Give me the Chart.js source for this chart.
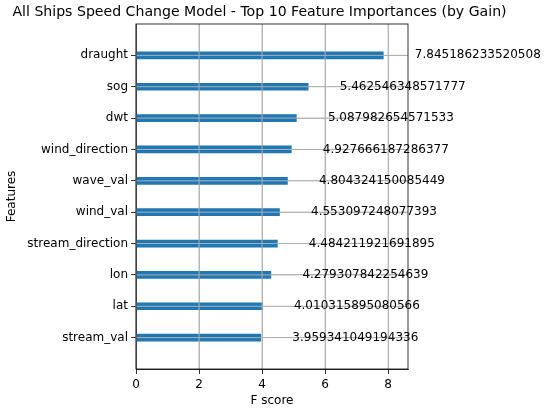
<!DOCTYPE html>
<html>
<head>
<meta charset="utf-8">
<script src="https://cdn.jsdelivr.net/npm/chart.js@4/dist/chart.umd.min.js"></script>
<style>
  html, body { margin: 0; padding: 0; background: #fff; }
  #wrap { width: 550px; height: 412px; }
</style>
</head>
<body>
<div id="wrap"><canvas id="c" width="550" height="412"></canvas></div>
<script>
const chartTitle = "All Ships Speed Change Model - Top 10 Feature Importances (by Gain)";
const features = ["draught", "sog", "dwt", "wind_direction", "wave_val", "wind_val", "stream_direction", "lon", "lat", "stream_val"];
const gains = [7.845186233520508, 5.462546348571777, 5.087982654571533, 4.927666187286377, 4.804324150085449, 4.553097248077393, 4.484211921691895, 4.279307842254639, 4.010315895080566, 3.959341049194336];
const xTicks = [0, 2, 4, 6, 8];

const FONT = "'DejaVu Sans', sans-serif";
const GRID = '#b0b0b0';

const overlay = {
  id: 'overlay',
  afterDatasetsDraw(chart) {
    const {ctx, chartArea: a, scales: {x, y}} = chart;
    ctx.save();
    // grid lines above bars (matplotlib style)
    ctx.strokeStyle = GRID;
    ctx.lineWidth = 1;
    ctx.beginPath();
    xTicks.forEach(v => { const px = x.getPixelForValue(v); ctx.moveTo(px, a.top); ctx.lineTo(px, a.bottom); });
    features.forEach((f, i) => { const py = y.getPixelForValue(i); ctx.moveTo(a.left, py); ctx.lineTo(a.right, py); });
    ctx.stroke();
    // spines
    ctx.strokeStyle = '#000';
    ctx.lineWidth = 0.8;
    ctx.strokeRect(a.left, a.top, a.right - a.left, a.bottom - a.top);
    // value labels
    ctx.fillStyle = '#000';
    ctx.font = '12px ' + FONT;
    ctx.textAlign = 'left';
    ctx.textBaseline = 'middle';
    gains.forEach((v, i) => {
      ctx.fillText(String(v), x.getPixelForValue(v + 1), y.getPixelForValue(i));
    });
    // title
    ctx.font = '14.1px ' + FONT;
    ctx.textAlign = 'center';
    ctx.fillText(chartTitle, 259.5, 12);
    ctx.restore();
  }
};

new Chart(document.getElementById('c'), {
  type: 'bar',
  data: {
    datasets: [{
      data: features.map((f, i) => ({x: gains[i], y: i})),
      backgroundColor: '#1f77b4',
      borderWidth: 0,
      barThickness: 7
    }]
  },
  options: {
    indexAxis: 'y',
    responsive: false,
    animation: false,
    events: [],
    layout: { padding: { left: 0, right: 142, top: 24, bottom: 0 } },
    plugins: { legend: { display: false }, tooltip: { enabled: false }, title: { display: false } },
    scales: {
      x: {
        type: 'linear',
        offset: false,
        min: 0,
        max: Math.max(...gains) * 1.1,
        afterBuildTicks: s => { s.ticks = xTicks.map(v => ({value: v})); },
        afterFit: s => { s.height = 43; },
        ticks: { color: '#000', font: { family: FONT, size: 12 }, padding: 4, maxRotation: 0 },
        grid: { offset: false, color: GRID, lineWidth: 0.8, tickColor: '#000', tickLength: 5, tickWidth: 0.8 },
        border: { color: '#000', width: 0.8 },
        title: { display: true, text: 'F score', color: '#000', font: { family: FONT, size: 12 }, padding: { top: 0, bottom: 4 } }
      },
      y: {
        type: 'linear',
        offset: false,
        reverse: true,
        min: -1,
        max: features.length,
        afterBuildTicks: s => { s.ticks = features.map((f, i) => ({value: i})); },
        afterFit: s => { s.width = 136; },
        ticks: { color: '#000', font: { family: FONT, size: 12 }, padding: 3, callback: v => features[v] },
        grid: { offset: false, color: GRID, lineWidth: 0.8, tickColor: '#000', tickLength: 5, tickWidth: 0.8 },
        border: { color: '#000', width: 0.8 },
        title: { display: true, text: 'Features', color: '#000', font: { family: FONT, size: 12 }, padding: { top: 5, bottom: 0 } }
      }
    }
  },
  plugins: [overlay]
});
</script>
</body>
</html>
